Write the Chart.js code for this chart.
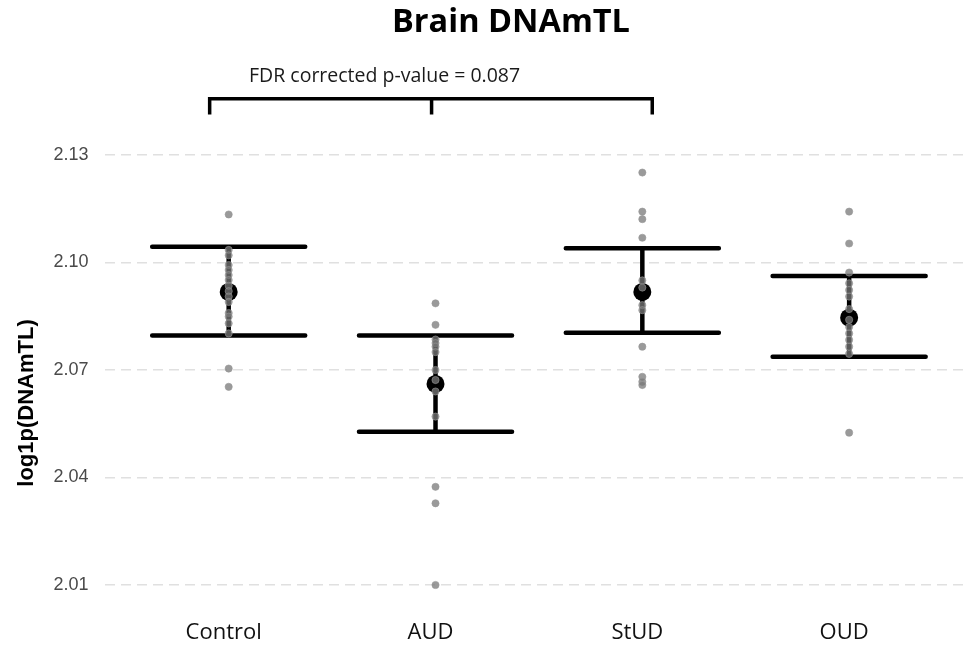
<!DOCTYPE html>
<html>
<head>
<meta charset="utf-8">
<script src="https://cdn.jsdelivr.net/npm/chart.js@4/dist/chart.umd.min.js"></script>
<style>
  html, body { margin: 0; padding: 0; background: #ffffff; }
  #wrap { width: 966px; height: 648px; }
</style>
</head>
<body>
<div id="wrap"><canvas id="c" width="966" height="648"></canvas></div>
<script>
// ---- data ----
const categories = ['Control', 'AUD', 'StUD', 'OUD'];
const groupMeans = [2.0918, 2.0661, 2.0918, 2.0846];
const groupUpper = [2.1044, 2.0796, 2.1040, 2.0962];
const groupLower = [2.0796, 2.0528, 2.0804, 2.0737];

const controlValues = [2.1134, 2.1035, 2.1020, 2.0993, 2.0979, 2.0965, 2.0951, 2.0935, 2.0920, 2.0905, 2.0890, 2.0859, 2.0849, 2.0830, 2.0802, 2.0704, 2.0653];
const audValues     = [2.0886, 2.0826, 2.0785, 2.0775, 2.0765, 2.0750, 2.0700, 2.0672, 2.0640, 2.0570, 2.0374, 2.0328, 2.0100];
const studValues    = [2.1251, 2.1142, 2.1121, 2.1069, 2.0950, 2.0930, 2.0881, 2.0867, 2.0765, 2.0681, 2.0667, 2.0658];
const oudValues     = [2.1142, 2.1053, 2.0972, 2.0942, 2.0923, 2.0905, 2.0870, 2.0840, 2.0820, 2.0802, 2.0784, 2.0765, 2.0745, 2.0525];
const groupValues = [controlValues, audValues, studValues, oudValues];

const yTickValues = [2.01, 2.04, 2.07, 2.10, 2.13];

const titleText = 'Brain DNAmTL';
const subtitleText = 'FDR corrected p-value = 0.087';
const yAxisTitle = 'log1p(DNAmTL)';
// bracket spans (x in category units) and its height (y in data units)
const bracketX = [0.908, 1.981, 3.048];
const bracketY = 2.1457;
const bracketTickY = 2.1413;

// ---- build datasets ----
const capHalf = 0.37;
const datasets = [];

groupValues.forEach((vals, i) => {
  datasets.push({
    type: 'scatter',
    label: categories[i] + ' samples',
    data: vals.map(v => ({ x: i + 1, y: v })),
    pointRadius: 3.6,
    pointHoverRadius: 3.6,
    pointBackgroundColor: 'rgba(120,120,120,0.75)',
    pointBorderColor: 'rgba(150,150,150,0.6)',
    pointBorderWidth: 1,
    order: 0
  });
});

datasets.push({
  type: 'scatter',
  label: 'mean',
  data: groupMeans.map((m, i) => ({ x: i + 1, y: m })),
  pointRadius: 9,
  pointHoverRadius: 9,
  pointBackgroundColor: '#000000',
  pointBorderColor: '#000000',
  pointBorderWidth: 0,
  order: 1
});

categories.forEach((c, i) => {
  const x = i + 1;
  datasets.push({
    type: 'line',
    label: c + ' error bar',
    data: [
      { x: x - capHalf, y: groupUpper[i] }, { x: x + capHalf, y: groupUpper[i] }, { x: x, y: null },
      { x: x, y: groupUpper[i] }, { x: x, y: groupLower[i] }, { x: x, y: null },
      { x: x - capHalf, y: groupLower[i] }, { x: x + capHalf, y: groupLower[i] }
    ],
    borderColor: '#000000',
    borderWidth: 4.5,
    borderCapStyle: 'round',
    pointRadius: 0,
    pointHoverRadius: 0,
    tension: 0,
    spanGaps: false,
    fill: false,
    order: 2
  });
});

// ---- annotation plugin (title, subtitle, y title, bracket) ----
const annotations = {
  id: 'annotations',
  afterDraw(chart) {
    const ctx = chart.ctx;
    const xs = chart.scales.x, ys = chart.scales.y;
    ctx.save();
    // title
    ctx.fillStyle = '#000000';
    ctx.font = 'bold 32.5px "Open Sans"';
    ctx.textAlign = 'center';
    ctx.textBaseline = 'alphabetic';
    ctx.fillText(titleText, 511, 32);
    // subtitle
    ctx.fillStyle = '#1a1a1a';
    ctx.font = '19.5px "Open Sans"';
    ctx.textAlign = 'left';
    ctx.fillText(subtitleText, 249, 82);
    // y title
    ctx.save();
    ctx.translate(27, 403);
    ctx.rotate(-Math.PI / 2);
    ctx.fillStyle = '#000000';
    ctx.font = 'bold 22px "Liberation Sans"';
    ctx.textAlign = 'center';
    ctx.textBaseline = 'middle';
    ctx.fillText(yAxisTitle, 0, 0);
    ctx.restore();
    // bracket
    const yb = ys.getPixelForValue(bracketY);
    const yt = ys.getPixelForValue(bracketTickY);
    const px = bracketX.map(v => xs.getPixelForValue(v));
    ctx.strokeStyle = '#000000';
    ctx.lineWidth = 3.5;
    ctx.lineCap = 'butt';
    ctx.lineJoin = 'miter';
    ctx.beginPath();
    ctx.moveTo(px[0], yt);
    ctx.lineTo(px[0], yb);
    ctx.lineTo(px[2], yb);
    ctx.lineTo(px[2], yt);
    ctx.moveTo(px[1], yb);
    ctx.lineTo(px[1], yt);
    ctx.stroke();
    ctx.restore();
  }
};

new Chart(document.getElementById('c'), {
  data: { datasets },
  plugins: [annotations],
  options: {
    responsive: false,
    animation: false,
    events: [],
    layout: { autoPadding: false, padding: { top: 90, right: 0, bottom: 0, left: 0 } },
    plugins: {
      legend: { display: false },
      title: { display: false },
      tooltip: { enabled: false }
    },
    scales: {
      x: {
        type: 'linear',
        min: 0.4,
        max: 4.565,
        afterBuildTicks(scale) { scale.ticks = categories.map((c, i) => ({ value: i + 1 })); },
        afterFit(scale) { scale.height = 40; },
        grid: { display: false, drawTicks: false },
        border: { display: false },
        ticks: {
          autoSkip: false,
          maxRotation: 0,
          padding: 12,
          labelOffset: -5,
          color: '#111111',
          font: { family: 'Open Sans', size: 22 },
          callback(v) { return categories[Math.round(v) - 1]; }
        }
      },
      y: {
        type: 'linear',
        min: 2.00358,
        max: 2.14814,
        afterBuildTicks(scale) { scale.ticks = yTickValues.map(v => ({ value: v })); },
        afterFit(scale) { scale.width = 104.6; },
        grid: {
          color: '#e0e0e0',
          lineWidth: 1.5,
          drawTicks: false
        },
        border: { display: false, dash: [10, 6] },
        ticks: {
          padding: 16,
          color: '#4a4a4a',
          font: { family: 'Liberation Sans', size: 18 },
          callback(v) { return v.toFixed(2); }
        }
      }
    }
  }
});
</script>
</body>
</html>
